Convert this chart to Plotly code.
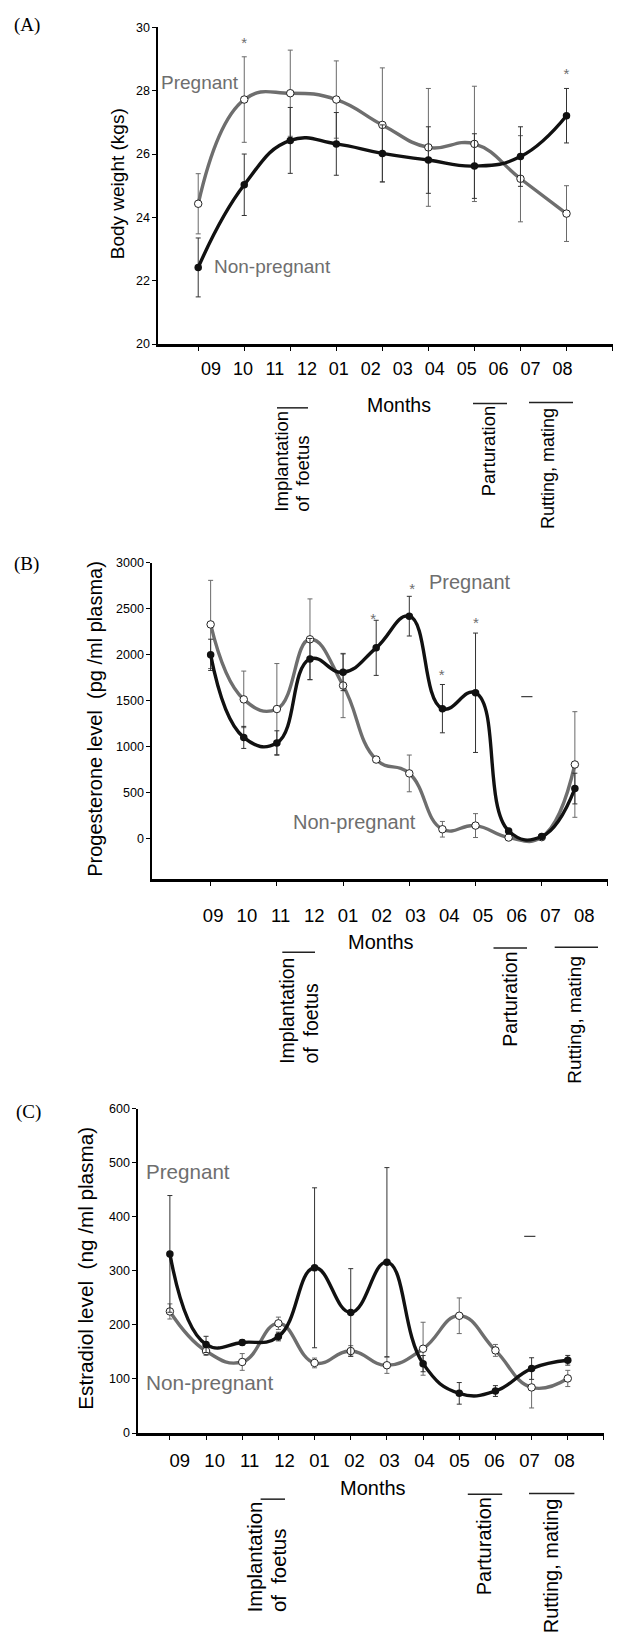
import plotly.graph_objects as go

W, H = 619, 1640

# ---------------- data ----------------
months = ["09", "10", "11", "12", "01", "02", "03", "04", "05", "06", "07", "08"]

# Panel A: body weight (kgs)
a_x = list(range(9))
a_open = [24.43, 27.72, 27.92, 27.72, 26.92, 26.21, 26.32, 25.22, 24.12]
a_open_err = [0.95, 1.35, 1.36, 1.22, 1.80, 1.86, 1.82, 1.36, 0.88]
a_filled = [22.42, 25.03, 26.43, 26.32, 26.02, 25.81, 25.62, 25.92, 27.21]
a_filled_err = [0.93, 0.97, 1.04, 0.99, 0.90, 1.05, 1.02, 0.94, 0.86]
a_star_x = [1, 8]
a_star_y = [29.47, 28.49]

# Panel B: progesterone (pg/ml plasma)
b_x = list(range(12))
b_open = [2327, 1511, 1406, 2165, 1662, 856, 705, 97, 137, 7, 11, 802]
b_open_err = [480, 308, 495, 440, 350, 20, 200, 85, 130, 15, 10, 575]
b_filled = [1996, 1097, 1036, 1950, 1806, 2072, 2417, 1410, 1583, 79, 18, 540]
b_filled_err = [170, 120, 133, 224, 200, 300, 216, 263, 650, 10, 10, 167]
b_star_x = [4.91, 6.09, 6.98, 8.01]
b_star_y = [2370, 2694, 1758, 2334]
b_stray_x = [9.55]
b_stray_y = [1540]

# Panel C: estradiol (ng/ml plasma)
c_x = list(range(12))
c_open = [225, 151.7, 131.5, 203, 129.7, 151.7, 125.4, 156, 217, 152.9, 84.4, 101]
c_open_err = [14, 8, 15.5, 11.5, 9, 10, 15, 49, 33, 11, 38, 15]
c_filled = [331.5, 164, 167.6, 178.6, 305.8, 223.2, 316.2, 128.4, 73.4, 77.7, 119.3, 134.6]
c_filled_err = [108, 15, 5, 8, 148, 81, 175, 15, 20, 10, 20, 9]
c_stray_x = [9.95]
c_stray_y = [364]

# ---------------- styling helpers ----------------
GRAY = "#6e6e6e"
BLACK = "#111111"
SANS = "Liberation Sans, Arial, sans-serif"
SERIF = "Liberation Serif, Times New Roman, serif"
SMOOTH = 1.3


def fx(p):
    return p / W


def fy(p):
    return 1 - p / H


fig = go.Figure()


def add_panel(k, x, ov, oe, fv, fe, sx, sy, stx=None, sty=None):
    xr = "x" if k == 1 else f"x{k}"
    yr = "y" if k == 1 else f"y{k}"
    fig.add_trace(go.Scatter(
        x=x, y=ov, mode="lines+markers", name="open",
        line=dict(color=GRAY, width=3.4, shape="spline", smoothing=SMOOTH),
        marker=dict(size=7.5, color="white", line=dict(color="#222222", width=1)),
        error_y=dict(type="data", array=oe, color="#6a6a6a", thickness=1, width=2.5),
        xaxis=xr, yaxis=yr, showlegend=False, hoverinfo="skip"))
    fig.add_trace(go.Scatter(
        x=x, y=fv, mode="lines+markers", name="filled",
        line=dict(color=BLACK, width=3.4, shape="spline", smoothing=SMOOTH),
        marker=dict(size=7.5, color=BLACK),
        error_y=dict(type="data", array=fe, color="#333333", thickness=1, width=2.5),
        xaxis=xr, yaxis=yr, showlegend=False, hoverinfo="skip"))
    fig.add_trace(go.Scatter(
        x=sx, y=sy, mode="text", text=["*"] * len(sx),
        textfont=dict(family=SANS, size=15, color=GRAY),
        xaxis=xr, yaxis=yr, showlegend=False, hoverinfo="skip"))
    if stx is not None:
        fig.add_trace(go.Scatter(
            x=stx, y=sty, mode="markers",
            marker=dict(symbol="line-ew", size=8, line=dict(color="#444444", width=1.2)),
            xaxis=xr, yaxis=yr, showlegend=False, hoverinfo="skip"))


add_panel(1, a_x, a_open, a_open_err, a_filled, a_filled_err, a_star_x, a_star_y)
add_panel(2, b_x, b_open, b_open_err, b_filled, b_filled_err, b_star_x, b_star_y,
          b_stray_x, b_stray_y)
add_panel(3, c_x, c_open, c_open_err, c_filled, c_filled_err, [], [],
          c_stray_x, c_stray_y)

# invisible traces to create month-label overlay axes
for xr, yr in (("x4", "y"), ("x5", "y2"), ("x6", "y3")):
    fig.add_trace(go.Scatter(x=list(range(len(months))), y=[None] * len(months),
                             mode="markers", xaxis=xr, yaxis=yr,
                             showlegend=False, hoverinfo="skip"))

base_x = dict(showline=True, linecolor="black", linewidth=3, ticks="outside",
              ticklen=4, tickwidth=1, tickcolor="black", showticklabels=False,
              showgrid=False, zeroline=False, fixedrange=True)
base_y = dict(showline=True, linecolor="black", linewidth=1.3, ticks="outside",
              ticklen=4, tickwidth=1, tickcolor="black",
              tickfont=dict(family=SANS, size=12.5, color="black"),
              showgrid=False, zeroline=False, fixedrange=True)
month_ax = dict(showline=False, ticks="", showgrid=False, zeroline=False,
                tickvals=list(range(len(months))), ticktext=months,
                anchor="free", side="bottom", fixedrange=True)

layout = dict(
    width=W, height=H, margin=dict(l=0, r=0, t=0, b=0),
    paper_bgcolor="white", plot_bgcolor="white", showlegend=False,
    xaxis=dict(base_x, domain=[fx(157.7), fx(613)], range=[-0.88, 9.01],
               tickvals=list(range(10)), anchor="y"),
    yaxis=dict(base_y, domain=[fy(340), fy(20.5)], range=[20, 30],
               tickvals=[20, 22, 24, 26, 28, 30], anchor="x"),
    xaxis2=dict(base_x, domain=[fx(151.7), fx(608.3)], range=[-1.78, 12.01],
                tickvals=[0, 2, 4, 6, 8, 10, 12], anchor="y2"),
    yaxis2=dict(base_y, domain=[fy(880), fy(560.4)], range=[-450, 3000],
                tickvals=[0, 500, 1000, 1500, 2000, 2500, 3000], anchor="x2"),
    xaxis3=dict(base_x, domain=[fx(137.7), fx(604.3)], range=[-0.89, 12.01],
                tickvals=list(range(13)), anchor="y3"),
    yaxis3=dict(base_y, domain=[fy(1438.3), fy(1111.3)], range=[0, 600],
                tickvals=[0, 100, 200, 300, 400, 500, 600], anchor="x3"),
    xaxis4=dict(month_ax, overlaying="x", range=[-1.67, 12.58], position=fy(352),
                tickfont=dict(family=SANS, size=18, color="black")),
    xaxis5=dict(month_ax, overlaying="x2", range=[-1.82, 11.71], position=fy(903),
                tickfont=dict(family=SANS, size=18.5, color="black")),
    xaxis6=dict(month_ax, overlaying="x3", range=[-1.2, 12.14], position=fy(1453),
                tickfont=dict(family=SANS, size=18.5, color="black")),
)

ann = []


def text(t, x, y, size, color="black", family=SANS, angle=0, yanchor="middle"):
    ann.append(dict(text=t, x=fx(x), y=fy(y), xref="paper", yref="paper",
                    xanchor="center", yanchor=yanchor, showarrow=False,
                    textangle=angle, borderpad=0,
                    font=dict(family=family, size=size, color=color)))


# panel letters
text("(A)", 26.6, 18.3, 19, family=SERIF)
text("(B)", 26.6, 561.7, 19, family=SERIF)
text("(C)", 28.6, 1115, 19, family=SERIF)

# y-axis titles
text("Body weight (kgs)", 117.5, 178.3, 19, angle=-90)
text("Progesterone level\u00a0 (pg /ml plasma)", 94.7, 718.3, 20, angle=-90)
text("Estradiol level\u00a0 (ng /ml plasma)", 85.9, 1271.7, 20.7, angle=-90)

# series labels
text("Pregnant", 200.3, 76, 19, GRAY)
text("Non-pregnant", 272.5, 261.7, 19, GRAY)
text("Pregnant", 470.3, 580, 20, GRAY)
text("Non-pregnant", 354, 821.7, 20, GRAY)
text("Pregnant", 187.5, 1175, 20.6, GRAY)
text("Non-pregnant", 210, 1387.7, 20.8, GRAY)

# x titles
text("Months", 398.7, 401, 19.5)
text("Months", 381, 943.3, 20)
text("Months", 373, 1494, 20)

# event annotations (rotated, bottom-aligned: text starts at the bottom)
events = [
    ("Implantation", 281.5, 510, 18.5),
    ("of\u00a0 foetus", 303, 510, 18.5),
    ("Parturation", 488, 495, 18.5),
    ("Rutting, mating", 548, 528, 18),
    ("Implantation", 286.2, 1066.7, 19.5),
    ("of\u00a0 foetus", 310.9, 1066.7, 19.5),
    ("Parturation", 509.3, 1050, 19.5),
    ("Rutting, mating", 574.4, 1086.7, 19),
    ("Implantation", 254.6, 1620, 20.3),
    ("of\u00a0 foetus", 278.3, 1620, 20.3),
    ("Parturation", 483.7, 1603.3, 20.1),
    ("Rutting, mating", 551.7, 1641, 20),
]
for t, x, y, s in events:
    text(t, x, y, s, angle=-90, yanchor="bottom")

brackets = [
    (277, 308, 404.3), (473, 507, 400), (529, 573, 399),
    (282.3, 315, 953.3), (493.5, 527, 949), (554.7, 598, 948.3),
    (260.6, 285, 1505), (467.8, 502.2, 1500), (529, 574.4, 1499.3),
]
shapes = [dict(type="line", xref="paper", yref="paper", x0=fx(a), x1=fx(b),
               y0=fy(y), y1=fy(y), line=dict(color="#222222", width=1.5))
          for a, b, y in brackets]

layout["annotations"] = ann
layout["shapes"] = shapes
fig.update_layout(**layout)

fig.write_html(
    "out.html",
    config={"displayModeBar": False, "staticPlot": True},
    post_script="document.body.style.margin='0';document.body.style.overflow='hidden';",
)
